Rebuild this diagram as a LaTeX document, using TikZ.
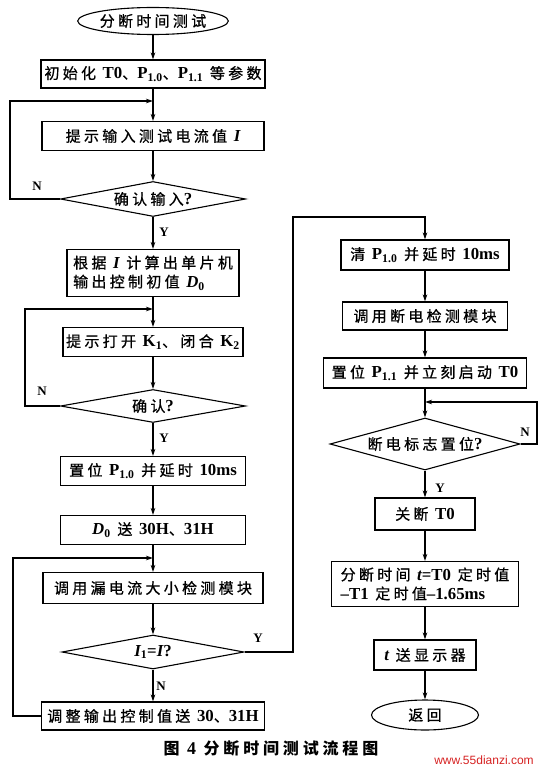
\documentclass[tikz,border=0pt]{standalone}
\usepackage{fontspec}
\setmainfont{Liberation Serif}
\newfontfamily\cjk[LetterSpace=22,FakeBold=0.8]{Noto Sans CJK SC}
\newfontfamily\cjkcap[LetterSpace=24]{Noto Sans CJK SC}
\newfontfamily\latf[Scale=1.12]{Liberation Serif}
\newfontfamily\wmfont{Liberation Sans}
\usetikzlibrary{shapes.geometric,arrows.meta}
\newcommand\la[1]{{\latf\bfseries #1}}
\newcommand\ita[1]{{\latf\bfseries\itshape #1}}
\newcommand\sbs[1]{\textsubscript{\latf\bfseries #1}}
\newcommand\fsz{\fontsize{15}{19}\selectfont}
\definecolor{wmred}{RGB}{215,35,35}
\begin{document}
\begin{tikzpicture}[x=1pt,y=-1pt,line width=1.1pt,
  >={Stealth[length=7pt,width=4.5pt]},
  pbox/.style={draw,rectangle,inner sep=0pt,font=\fsz\cjk},
  pdia/.style={draw,diamond,inner sep=0pt,aspect=4,font=\fsz\cjk},
  pterm/.style={draw,ellipse,inner sep=0pt,font=\fsz\cjk},
  lab/.style={font=\fontsize{13}{15}\selectfont\bfseries},
  arr/.style={->}]
\fill[white] (0,0) rectangle (545,773);
\useasboundingbox (0,0) rectangle (545,773);
% left column
\node[pterm,minimum width=150pt,minimum height=27pt] (s) at (153,21) {分断时间测试};
\node[pbox,minimum width=224pt,minimum height=28pt] (b1) at (153,74) {初始化 \la{T0}、\la{P\sbs{1.0}}、\la{P\sbs{1.1}} 等参数};
\node[pbox,minimum width=222pt,minimum height=29pt] (b2) at (153,136) {提示输入测试电流值 \ita{I}};
\node[pdia,minimum width=185pt,minimum height=35pt] (d1) at (153,199) {确认输入\la{?}};
\node[pbox,minimum width=172pt,minimum height=47pt,align=left] (b3) at (153,273) {根据 \ita{I} 计算出单片机\\输出控制初值 \ita{D}\sbs{0}};
\node[pbox,minimum width=180pt,minimum height=29pt] (b4) at (153,342) {提示打开 \la{K\sbs{1}}、闭合 \la{K\sbs{2}}};
\node[pdia,minimum width=185pt,minimum height=33pt] (d2) at (153,406) {确认\la{?}};
\node[pbox,minimum width=185pt,minimum height=29pt] (b5) at (153,471) {置位 \la{P\sbs{1.0}} 并延时 \la{10ms}};
\node[pbox,minimum width=185pt,minimum height=29pt] (b6) at (153,530) {\ita{D}\sbs{0} 送 \la{30H}、\la{31H}};
\node[pbox,minimum width=220pt,minimum height=31pt] (b7) at (153,588) {调用漏电流大小检测模块};
\node[pdia,minimum width=182pt,minimum height=34pt] (d3) at (153,652) {\ita{I}\sbs{1}\la{=}\ita{I}\la{?}};
\node[pbox,minimum width=223pt,minimum height=28pt] (b8) at (153,716) {调整输出控制值送 \la{30}、\la{31H}};
% right column
\node[pbox,minimum width=168pt,minimum height=30pt] (c1) at (425,255) {清 \la{P\sbs{1.0}} 并延时 \la{10ms}};
\node[pbox,minimum width=165pt,minimum height=28pt] (c2) at (425,316) {调用断电检测模块};
\node[pbox,minimum width=203pt,minimum height=30pt] (c3) at (425,373) {置位 \la{P\sbs{1.1}} 并立刻启动 \la{T0}};
\node[pdia,minimum width=190pt,minimum height=52pt] (d4) at (425,444) {断电标志置位\la{?}};
\node[pbox,minimum width=100pt,minimum height=32pt] (c4) at (425,514) {关断 \la{T0}};
\node[pbox,minimum width=187pt,minimum height=45pt,align=left] (c5) at (425,584) {分断时间 \ita{t}\la{=T0} 定时值\\\la{–T1} 定时值\la{–1.65ms}};
\node[pbox,minimum width=102pt,minimum height=30pt] (c6) at (425,655) {\ita{t} 送显示器};
\node[pterm,minimum width=107pt,minimum height=30pt] (e) at (425,715) {返回};
% junction coordinates
\coordinate (j1) at (153,101);
\coordinate (l1) at (10,101);
\coordinate (j2) at (153,309);
\coordinate (l2) at (25,309);
\coordinate (j3) at (153,558);
\coordinate (l3) at (13,558);
\coordinate (ytop) at (293,217);
\coordinate (j4) at (425,402);
\coordinate (r4) at (537,402);
% main flow
\draw[arr] (s) -- (b1);
\draw[arr] (b1) -- (b2);
\draw[arr] (b2) -- (d1);
\draw[arr] (d1) -- (b3);
\draw[arr] (b3) -- (b4);
\draw[arr] (b4) -- (d2);
\draw[arr] (d2) -- (b5);
\draw[arr] (b5) -- (b6);
\draw[arr] (b6) -- (b7);
\draw[arr] (b7) -- (d3);
\draw[arr] (d3) -- (b8);
\draw[arr] (c1) -- (c2);
\draw[arr] (c2) -- (c3);
\draw[arr] (c3) -- (d4);
\draw[arr] (d4) -- (c4);
\draw[arr] (c4) -- (c5);
\draw[arr] (c5) -- (c6);
\draw[arr] (c6) -- (e);
% loops
\draw[arr] (d1.west) -| (l1) -- (j1);
\draw[arr] (d2.west) -| (l2) -- (j2);
\draw[arr] (b8.west) -| (l3) -- (j3);
\draw[arr] (d3.east) -| (ytop) -| (c1.north);
\draw[arr] (d4.east) -| (r4) -- (j4);
% labels
\node[lab] (n1) at (37,186) {N};
\node[lab] (y1) at (164,232) {Y};
\node[lab] (n2) at (42,391) {N};
\node[lab] (y2) at (164,438) {Y};
\node[lab] (y3) at (258,638) {Y};
\node[lab] (n3) at (161,686) {N};
\node[lab] (n4) at (525,432) {N};
\node[lab] (y4) at (440,488) {Y};
% caption
\node[font=\fontsize{16}{18}\selectfont\bfseries\cjkcap] (cap) at (271,748) {图 \la{4} 分断时间测试流程图};
\node[font=\fontsize{12}{14}\selectfont\wmfont,text=wmred] (wm) at (484,760) {www.55dianzi.com};
\end{tikzpicture}
\end{document}
